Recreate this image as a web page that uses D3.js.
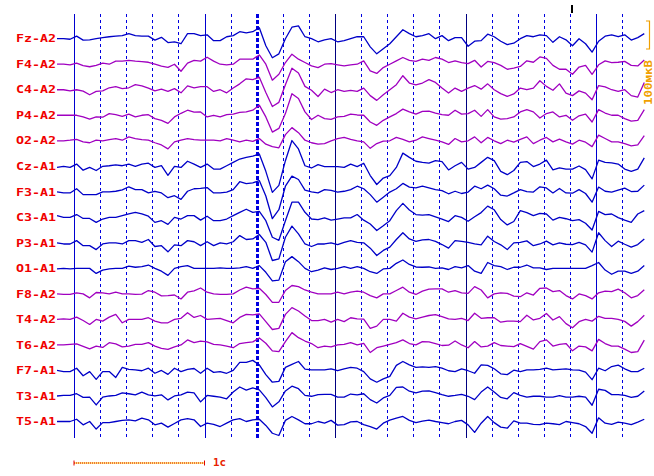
<!DOCTYPE html>
<html><head><meta charset="utf-8">
<script src="https://cdn.jsdelivr.net/npm/d3@7"></script>
<style>body{margin:0;background:#fff;overflow:hidden}</style>
</head><body><svg id="chart" width="654" height="476"></svg>
<script>
// ---- data ----
const channels = ["Fz-A2","F4-A2","C4-A2","P4-A2","O2-A2","Cz-A1","F3-A1","C3-A1","P3-A1","O1-A1","F8-A2","T4-A2","T6-A2","F7-A1","T3-A1","T5-A1"];
const channelGroup = ["A1ref","A2","A2","A2","A2","A1","A1","A1","A1","A1","A2","A2","A2","A1","A1","A1"];
const sampleStart = -0.13;   // seconds
const sampleStep = 0.05;     // seconds
// amplitudes in µV (EEG convention: negative is up)
const FzA2 = [0,0,2,-9,5,4,0,-4,-7,-9,-11,-18,-11,-9,-9,5,-5,14,11,18,-18,-18,-11,-14,7,7,-7,-11,-25,-21,-25,
 -39,25,68,54,0,-41,-46,-7,0,11,4,0,11,7,0,-7,-7,29,54,36,18,-7,-32,-18,-7,-11,-18,0,-11,7,
 -4,-4,27,9,7,-16,-7,9,21,16,0,-11,-7,-14,-11,13,-7,4,25,0,18,48,9,-9,-14,-7,-14,5,-4,-18];
const F4A2 = [0,0,2,-4,5,9,4,-4,0,-11,-11,-14,-11,-9,-7,0,7,11,0,25,-4,-14,-11,-25,-11,0,2,0,-18,-18,-18,
 -33,0,57,36,-6,-36,-18,-6,6,12,0,-2,2,6,2,0,-12,24,33,12,0,-12,-24,-14,-10,-18,-14,-24,-18,-6,
 -12,-6,-2,-14,10,-10,-6,4,18,14,8,-12,-7,-26,-21,4,18,18,36,10,4,36,2,-12,-6,-7,-10,4,6,-15];
const C4A2 = [0,0,4,0,5,18,6,4,-7,-11,-4,-7,-18,-14,-6,4,-2,6,-4,11,-14,-7,-11,-11,6,0,11,-6,-21,-39,-36,
 -45,10,60,45,-18,-77,-60,-12,2,24,-2,10,0,6,2,6,-6,21,38,18,0,-18,-50,-24,-17,-24,-36,-26,-6,12,
 -6,6,-6,-15,-2,-21,0,14,24,15,-6,0,-6,-32,-12,2,-21,12,21,4,12,36,-15,-10,0,6,0,21,26,-26];
const P4A2 = [0,0,0,0,6,14,6,7,-6,-2,4,-4,6,0,-2,12,18,29,6,-7,-18,-11,-12,6,0,6,-2,-4,-10,-12,-18,
 -36,6,60,47,-6,-77,-60,-12,15,0,12,15,6,4,-4,-1,0,24,36,18,6,-6,-22,-12,-4,-14,-15,-8,-2,0,
 -18,-4,-6,-18,4,-20,6,14,12,6,-12,-20,-12,10,-6,-12,6,0,18,2,-4,24,-20,-8,0,0,12,21,18,-20];
const O2A2 = [0,0,-2,-5,4,7,-2,0,-4,-8,-2,-14,-8,-4,-2,7,15,29,4,-2,-8,-4,-2,-2,-2,0,-8,-2,4,-2,2,
 -8,12,21,25,-22,-47,-29,-2,7,12,10,0,-8,-12,-5,0,4,27,10,1,0,-12,-5,4,-2,-14,-8,-2,4,13,
 -8,4,0,-14,7,-12,0,10,-2,5,-5,-14,10,-2,-12,4,-6,4,12,-2,5,21,-20,-8,4,4,10,18,15,-18];
const CzA1 = [4,0,4,-8,14,4,15,0,-2,-5,-2,-8,0,-8,-11,4,-2,32,0,4,-18,-8,4,-8,10,10,-2,-14,-26,-32,-36,
 -44,18,93,68,-20,-92,-62,-2,6,-6,1,1,1,4,-8,1,-11,33,65,42,33,4,-47,-32,-18,-14,-11,-20,-17,13,
 -2,-14,10,4,-14,-32,-20,18,30,15,-14,-17,1,-8,-22,13,6,10,10,-1,12,45,-22,-14,-12,-8,10,18,10,-30];
const F3A1 = [0,4,4,-11,10,10,10,0,0,-2,-7,-18,-8,-8,4,-2,4,21,14,27,-2,-11,-12,-15,4,4,1,-8,-36,-29,-32,
 -40,15,96,64,-20,-56,-44,-6,0,4,-8,-5,1,-2,-8,-20,-11,10,37,19,1,-11,-30,-17,-14,-20,-14,-8,-4,7,
 -2,6,1,-20,-11,-24,-11,12,15,4,-8,-1,1,-18,-14,4,-12,4,5,-8,6,37,-17,-2,1,-6,-13,-1,-2,-24];
const C3A1 = [-6,0,0,-10,4,4,18,6,0,0,-6,-12,-18,-12,-4,18,12,25,0,6,-6,-6,10,-4,12,12,6,-6,-18,-29,-18,
 -21,12,71,82,12,-54,-54,-18,6,8,2,10,6,2,2,-10,10,24,47,30,12,-24,-50,-26,-10,-8,-10,-2,6,15,
 -6,0,14,-2,-17,-40,-27,8,27,15,-24,-17,-6,-14,-12,10,0,5,12,8,21,45,-21,-10,-12,1,10,18,-12,-24];
const P3A1 = [0,4,4,-8,10,10,24,4,0,0,4,-8,-8,-2,-12,13,10,32,7,10,-8,-4,10,-4,10,0,4,-4,-26,-12,-14,
 -30,-2,63,57,-20,-60,-32,4,13,4,4,0,6,-2,-8,-2,0,19,45,27,15,-12,-36,-14,-5,-11,-12,-5,6,19,
 -8,-5,-2,4,7,-24,-5,7,24,0,-2,-7,10,4,-6,7,0,5,6,-2,7,33,-36,-8,13,-6,5,15,6,-14];
const O1A1 = [2,0,2,0,0,0,18,6,2,0,0,-8,-4,-6,-12,0,10,25,0,-6,-10,0,0,0,0,-2,0,0,-2,-6,0,
 -10,14,45,42,-24,-42,-24,0,12,6,-2,4,0,-6,0,-6,0,12,18,2,0,-18,-30,-14,-5,-4,-5,0,-2,4,
 -6,-2,-10,10,18,-21,-10,-6,4,-4,-4,-12,-2,-2,4,0,0,0,0,0,0,-10,-21,6,21,10,10,18,10,-10];
const F8A2 = [0,2,2,-4,0,14,-5,-4,0,-6,0,0,2,1,-12,-6,7,6,4,18,-6,-11,-21,-6,0,2,2,0,-14,-24,-18,
 -20,2,30,30,-12,-30,-26,-14,-6,0,0,0,-6,0,-6,-10,-6,6,14,0,0,-12,-24,-6,2,-10,-17,-18,-18,-6,
 -12,-4,-2,-26,-14,14,0,-4,-2,8,10,-4,4,-20,-21,-8,-12,6,18,0,6,18,-4,-10,-8,-17,-4,14,6,-15];
const T4A2 = [0,-2,0,-8,4,18,0,6,-8,-18,12,0,0,0,-6,6,12,12,0,-4,-24,-7,-14,0,-2,-4,4,12,-7,-18,-16,
 -20,8,36,32,-18,-42,-30,-12,4,4,0,10,0,8,-6,-2,-1,32,24,0,0,6,-22,-8,-2,-8,-14,-17,-10,-2,
 0,-4,4,-22,-4,-6,-6,10,6,6,8,-15,2,-4,-21,2,-10,15,30,8,0,6,-11,-4,-4,0,7,24,8,-15];
const T6A2 = [0,0,-2,-4,5,14,4,9,-8,-4,7,4,-2,-2,-8,4,12,16,7,0,-18,-8,-14,-11,-2,0,4,10,-5,-8,-11,
 -25,-6,21,24,-12,-44,-26,-14,-5,10,4,7,0,-2,-8,0,-6,27,10,4,-2,-8,-18,-5,0,-12,-11,-5,2,1,
 -14,0,10,-12,7,4,-8,2,4,6,-5,5,15,-12,-18,4,-2,-5,21,4,7,21,-20,-5,4,4,15,27,24,-17];
const F7A1 = [0,4,4,-8,19,4,32,4,4,25,-11,-4,-2,1,-8,10,0,14,-8,4,-4,-7,10,-8,7,4,10,0,-29,-29,-36,
 -20,15,42,39,-11,-22,-32,-5,-2,-2,-2,-6,1,-6,-11,-8,4,30,42,30,21,-18,-32,-20,-11,-13,-11,-14,-8,1,
 4,-6,1,10,-20,-18,-6,12,15,-1,4,-2,-2,-4,-8,-2,-4,-6,-2,-1,6,33,-8,1,-14,-19,-6,4,4,-8];
const T3A1 = [0,-2,-2,-8,5,4,32,4,0,-2,-11,-8,-4,-14,-4,0,-4,14,0,-4,-14,-11,21,-2,1,4,10,-14,-32,-21,-29,
 -22,6,39,21,-18,-35,-26,-2,1,-5,-6,-6,4,4,-7,-4,-8,13,25,7,-2,-31,-32,-17,-11,-17,-18,-12,-5,1,
 -2,-6,1,13,-14,-32,-14,5,10,-12,-2,4,1,1,4,4,-1,4,4,1,4,33,-24,-20,-5,-5,-2,5,1,-18];
const T5A1 = [0,0,0,-8,12,0,27,4,4,0,-4,-6,-2,-12,-6,12,6,20,7,-6,-10,-6,18,6,10,18,6,-6,-10,0,-6,
 -8,14,42,50,-4,-18,-6,8,8,0,6,-4,13,11,1,0,11,18,27,6,-5,-12,-18,-4,4,-1,-5,0,4,8,
 0,-4,12,39,6,-18,4,20,24,-2,6,6,10,11,6,8,11,0,4,8,18,42,-13,6,10,2,6,11,2,-8];
const seriesList = [FzA2,F4A2,C4A2,P4A2,O2A2,CzA1,F3A1,C3A1,P3A1,O1A1,F8A2,T4A2,T6A2,F7A1,T3A1,T5A1];
const gridTimes = [0,0.2,0.4,0.6,0.8,1,1.2,1.4,1.6,1.8,2,2.2,2.4,2.6,2.8,3,3.2,3.4,3.6,3.8,4,4.2];
const secondTimes = [0,1,2,3,4];
const markedTime = [1.4];
const eventTimes = [3.816];
const scaleBarSeconds = [0, 1];
const scaleBarLabel = "1c";
const ampBar = [0, 100];
const ampLabel = "100мкВ";

// ---- drawing ----
const svg = d3.select("#chart");
const x = d3.scaleLinear().domain([0, 4]).range([74, 596]);
const yCh = d3.scalePoint().domain(channels).range([38.7, 421.5]);
const amp = d3.scaleLinear().domain([0, 100]).range([0, 28]);
const colorOf = g => (g === "A2" ? "#a000c0" : "#0000c8");
const gridTop = 14, gridBottom = 438;

// grid
const g = svg.append("g");
g.selectAll("line.dot").data(gridTimes.filter(t => !secondTimes.some(s => Math.abs(s - t) < 1e-6) && !markedTime.some(s => Math.abs(s - t) < 1e-6)))
  .join("line").attr("x1", d => Math.round(x(d)) + 0.5).attr("x2", d => Math.round(x(d)) + 0.5)
  .attr("y1", gridTop).attr("y2", gridBottom)
  .attr("stroke", "#0000e0").attr("stroke-width", 1).attr("stroke-dasharray", "3,3").attr("shape-rendering", "crispEdges");
g.selectAll("line.mark").data(markedTime).join("line")
  .attr("x1", d => Math.round(x(d)) + 0.5).attr("x2", d => Math.round(x(d)) + 0.5)
  .attr("y1", gridTop).attr("y2", gridBottom)
  .attr("stroke", "#0000e0").attr("stroke-width", 3).attr("stroke-dasharray", "4,2").attr("shape-rendering", "crispEdges");
g.selectAll("line.sec").data(secondTimes).join("line")
  .attr("x1", d => Math.round(x(d)) + 0.5).attr("x2", d => Math.round(x(d)) + 0.5)
  .attr("y1", gridTop).attr("y2", gridBottom)
  .attr("stroke", d => (d === 2 || d === 3) ? "#000080" : "#0000d0").attr("stroke-width", 1.5).attr("shape-rendering", "crispEdges");
svg.selectAll("line.evt").data(eventTimes).join("line")
  .attr("x1", d => x(d)).attr("x2", d => x(d)).attr("y1", 5).attr("y2", 13)
  .attr("stroke", "#000").attr("stroke-width", 2);

// traces
const times = seriesList[0].map((_, k) => sampleStart + k * sampleStep);
const line = d3.line().x((d, k) => x(times[k]));
channels.forEach((ch, i) => {
  const y0 = yCh(ch);
  svg.append("path")
    .attr("d", line.y(d => y0 + amp(d))(seriesList[i]))
    .attr("fill", "none")
    .attr("stroke", colorOf(channelGroup[i]))
    .attr("stroke-width", 1.3)
    .attr("stroke-linejoin", "round");
});

// labels
svg.selectAll("text.lab").data(channels).join("text")
  .attr("x", 16).attr("y", d => yCh(d) + 3.7)
  .attr("textLength", 40).attr("lengthAdjust", "spacingAndGlyphs")
  .attr("font-family", "DejaVu Sans Mono").attr("font-weight", "bold").attr("font-size", 10)
  .attr("fill", "#f00000").text(d => d);

// time scale bar
const by = 463;
svg.append("line").attr("x1", x(scaleBarSeconds[0])).attr("x2", x(scaleBarSeconds[1])).attr("y1", by).attr("y2", by)
  .attr("stroke", "#ffd000").attr("stroke-width", 1.2);
svg.append("line").attr("x1", x(scaleBarSeconds[0])).attr("x2", x(scaleBarSeconds[1])).attr("y1", by).attr("y2", by)
  .attr("stroke", "#e00000").attr("stroke-width", 1.2).attr("stroke-dasharray", "1,1");
scaleBarSeconds.forEach(s => {
  svg.append("line").attr("x1", x(s)).attr("x2", x(s)).attr("y1", by - 2.5).attr("y2", by + 2.5)
    .attr("stroke", "#e00000").attr("stroke-width", 1);
});
svg.append("text").attr("x", 213).attr("y", 466).attr("textLength", 13).attr("lengthAdjust", "spacingAndGlyphs")
  .attr("font-family", "DejaVu Sans Mono").attr("font-weight", "bold").attr("font-size", 10)
  .attr("fill", "#e82000").text(scaleBarLabel);

// amplitude scale bar
const ay0 = 21;
const abx = 649.5;
svg.append("path")
  .attr("d", `M646,${ay0 + amp(ampBar[0])}H${abx}V${ay0 + amp(ampBar[1])}H646`)
  .attr("fill", "none").attr("stroke", "#f0a000").attr("stroke-width", 1.2);
svg.append("text")
  .attr("transform", "translate(652,105) rotate(-90)")
  .attr("textLength", 45).attr("lengthAdjust", "spacingAndGlyphs")
  .attr("font-family", "DejaVu Sans Mono").attr("font-weight", "bold").attr("font-size", 10)
  .attr("fill", "#f0a000").text(ampLabel);
</script>
</body></html>
